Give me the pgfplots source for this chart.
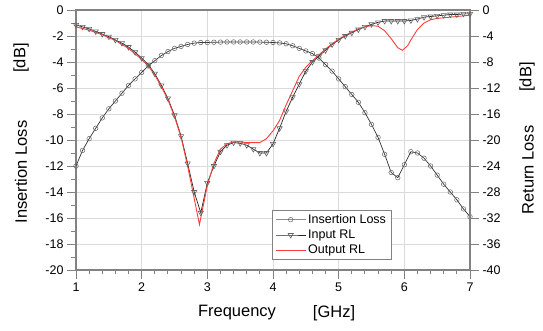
\documentclass[border=0pt]{standalone}
\usepackage{pgfplots}
\pgfplotsset{compat=1.18}
\usepackage{fontspec}
\setmainfont{Liberation Sans}
\definecolor{axgray}{RGB}{130,130,130}
\definecolor{gridgray}{RGB}{218,218,218}
\definecolor{rlred}{RGB}{255,60,60}
\definecolor{markgray}{RGB}{100,100,100}
\pgfplotsset{
  common/.style={scale only axis, width=394pt, height=260pt, xmin=1, xmax=7,
    axis line style={axgray, line width=1.2pt},
    tick style={axgray, line width=0.9pt},
    major tick length=9pt, minor tick length=4.5pt, tick align=outside,
    /pgf/number format/assume math mode=true,
    ticklabel style={font=\fontsize{12.5}{13}\selectfont},
  },
  ilstyle/.style={black!80, line width=0.7pt, mark=o, mark size=2.3pt, mark options={markgray, line width=0.5pt, fill=white}},
  rlstyle/.style={black!85, line width=0.7pt, mark=triangle, mark size=3pt, mark options={markgray, line width=0.6pt, rotate=180, fill=white}},
  outstyle/.style={rlred, line width=0.9pt, no marks},
}
\begin{document}
\begin{tikzpicture}
\begin{axis}[common,
  ymin=-20, ymax=0,
  xtick={1,...,7}, ytick={-20,-18,...,0},
  minor x tick num=4, minor y tick num=1,
  xtick pos=bottom, ytick pos=left,
  grid=major, major grid style={gridgray, line width=0.8pt},
]
\coordinate (SW) at (rel axis cs:0,0);
\addplot[ilstyle] coordinates {
(1.0,-12.0) (1.1,-10.8) (1.2,-9.9) (1.3,-9.1) (1.4,-8.3) (1.5,-7.6) (1.6,-7.0) (1.7,-6.4) (1.8,-5.8) (1.9,-5.3)
(2.0,-4.8) (2.1,-4.3) (2.2,-3.9) (2.3,-3.5) (2.4,-3.2) (2.5,-2.95) (2.6,-2.8) (2.7,-2.65) (2.8,-2.55) (2.9,-2.5)
(3.0,-2.5) (3.1,-2.48) (3.2,-2.47) (3.3,-2.46) (3.4,-2.46) (3.5,-2.46) (3.6,-2.46) (3.7,-2.46) (3.8,-2.47) (3.9,-2.48)
(4.0,-2.5) (4.1,-2.53) (4.2,-2.6) (4.3,-2.75) (4.4,-2.95) (4.5,-3.15) (4.6,-3.35) (4.7,-3.7) (4.8,-4.2) (4.9,-4.7)
(5.0,-5.3) (5.1,-5.9) (5.2,-6.5) (5.3,-7.1) (5.4,-7.9) (5.5,-8.8) (5.6,-9.8) (5.7,-11.1) (5.8,-12.5) (5.9,-12.9)
(6.0,-11.9) (6.1,-10.9) (6.2,-11.0) (6.3,-11.4) (6.4,-12.0) (6.5,-12.7) (6.6,-13.4) (6.7,-14.0) (6.8,-14.6) (6.9,-15.3) (7.0,-15.9)
};
\end{axis}
\begin{axis}[common,
  ymin=-40, ymax=0,
  axis x line=none, axis y line*=right,
  ytick={-40,-36,...,0},
  legend style={at={(rel axis cs:0.497,0.231)}, anchor=north west, draw=axgray, line width=0.9pt,
    font=\fontsize{12.5}{13}\selectfont, row sep=1pt, inner xsep=3pt, inner ysep=2pt},
  legend cell align=left,
  legend image code/.code={\draw[mark repeat=2, mark phase=2, #1] plot coordinates {(0pt,0pt) (15pt,0pt) (30pt,0pt)};},
]
\addlegendimage{ilstyle, black!45}
\addlegendentry{Insertion Loss}
\addplot[rlstyle] coordinates {
(1.0,-2.3) (1.1,-2.6) (1.2,-2.9) (1.3,-3.3) (1.4,-3.7) (1.5,-4.1) (1.6,-4.6) (1.7,-5.1) (1.8,-5.7) (1.9,-6.5)
(2.0,-7.4) (2.1,-8.4) (2.2,-9.8) (2.3,-11.6) (2.4,-13.6) (2.5,-16.2) (2.6,-19.4) (2.7,-23.6) (2.8,-28.0) (2.9,-31.2)
(3.0,-26.6) (3.1,-24.0) (3.2,-21.8) (3.3,-20.8) (3.4,-20.4) (3.5,-20.5) (3.6,-20.8) (3.7,-21.4) (3.8,-22.0) (3.9,-22.0)
(4.0,-20.6) (4.1,-18.2) (4.2,-15.6) (4.3,-13.4) (4.4,-11.4) (4.5,-9.4) (4.6,-8.0) (4.7,-7.1) (4.8,-6.2) (4.9,-5.3)
(5.0,-4.6) (5.1,-4.0) (5.2,-3.5) (5.3,-3.0) (5.4,-2.6) (5.5,-2.2) (5.6,-1.9) (5.7,-1.7) (5.8,-1.7) (5.9,-1.7)
(6.0,-1.7) (6.1,-1.6) (6.2,-1.4) (6.3,-1.1) (6.4,-1.0) (6.5,-0.9) (6.6,-0.8) (6.7,-0.7) (6.8,-0.7) (6.9,-0.6) (7.0,-0.6)
};
\addlegendentry{Input RL}
\addplot[outstyle] coordinates {
(1.0,-2.6) (1.2,-3.1) (1.4,-3.8) (1.6,-4.7) (1.8,-5.9) (2.0,-7.6) (2.1,-8.6) (2.2,-10.0) (2.3,-11.8) (2.4,-13.8)
(2.5,-16.4) (2.6,-19.6) (2.7,-24.0) (2.8,-29.0) (2.88,-33.0) (3.0,-27.0) (3.1,-23.6) (3.2,-21.4) (3.3,-20.6) (3.4,-20.3)
(3.5,-20.3) (3.6,-20.4) (3.7,-20.4) (3.8,-20.4) (3.9,-19.8) (4.0,-18.6) (4.1,-17.0) (4.2,-14.6) (4.3,-12.4) (4.4,-10.2)
(4.5,-8.8) (4.6,-7.8) (4.7,-6.9) (4.8,-6.0) (4.9,-5.2) (5.0,-4.5) (5.1,-3.9) (5.2,-3.4) (5.3,-2.9) (5.4,-2.6)
(5.5,-2.4) (5.6,-2.5) (5.7,-3.2) (5.8,-4.4) (5.9,-5.8) (5.97,-6.2) (6.05,-5.5) (6.1,-4.6) (6.2,-3.0) (6.3,-2.0)
(6.4,-1.5) (6.5,-1.3) (6.6,-1.2) (6.7,-1.1) (6.8,-1.0) (6.9,-0.9) (7.0,-0.8)
};
\addlegendentry{Output RL}
\end{axis}
\begin{scope}[shift={(SW)}, x=1pt, y=1pt]
\node[rotate=90, font=\fontsize{16.5}{17}\selectfont] at (-55,212) {[dB]};
\node[rotate=90, font=\fontsize{16.5}{17}\selectfont] at (-55,98) {Insertion Loss};
\node[rotate=90, font=\fontsize{16.5}{17}\selectfont] at (451,193) {[dB]};
\node[rotate=90, font=\fontsize{16.5}{17}\selectfont] at (452,100) {Return Loss};
\node[font=\fontsize{16.5}{17}\selectfont] at (161,-43) {Frequency};
\node[font=\fontsize{16.5}{17}\selectfont] at (258,-43) {[GHz]};
\end{scope}
\pgfresetboundingbox
\path (SW) ++(-76pt,-61pt) rectangle ++(543pt,331pt);
\end{tikzpicture}
\end{document}
